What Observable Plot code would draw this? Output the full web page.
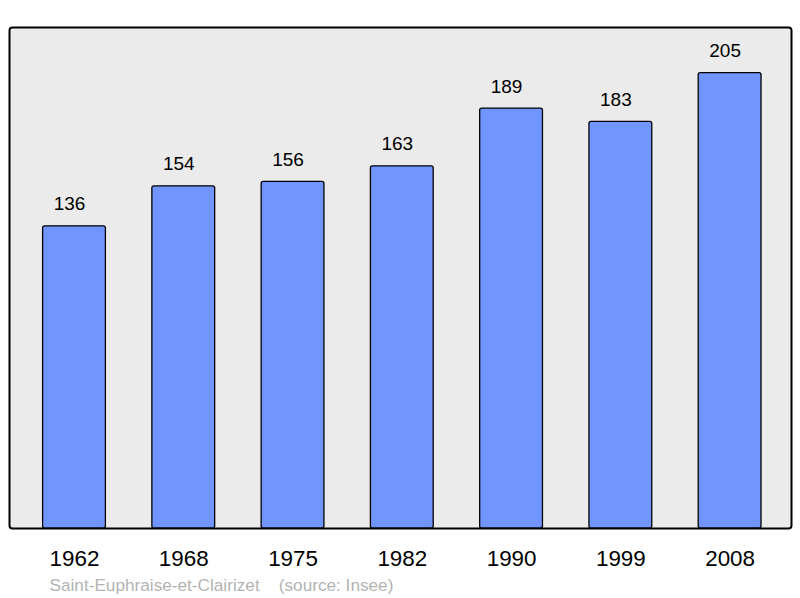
<!DOCTYPE html>
<html>
<head>
<meta charset="utf-8">
<script src="https://cdn.jsdelivr.net/npm/d3@7"></script>
<script src="https://cdn.jsdelivr.net/npm/@observablehq/plot@0.6"></script>
<style>
  html, body { margin: 0; padding: 0; background: #fff; }
  svg { display: block; }
</style>
</head>
<body>
<div id="chart"></div>
<script>
const years = ["1962", "1968", "1975", "1982", "1990", "1999", "2008"];
const population = [136, 154, 156, 163, 189, 183, 205];
const caption = "Saint-Euphraise-et-Clairizet\u00a0\u00a0\u00a0\u00a0(source: Insee)";

const data = years.map((year, i) => ({year, value: population[i]}));

const chart = Plot.plot({
  width: 800,
  height: 598,
  marginLeft: 9,
  marginRight: 9,
  marginTop: 27,
  marginBottom: 70,
  style: {fontFamily: "'Liberation Sans', Arial, sans-serif", background: "#fff"},
  x: {type: "band", domain: years, range: [9.82, 793.8], paddingInner: 0.4253, paddingOuter: 0.3, round: false, axis: null},
  y: {domain: [0, 225.5], axis: null},
  marks: [
    Plot.frame({fill: "#ebebeb", stroke: "#000", strokeWidth: 2, rx: 3}),
    Plot.barY(data, {x: "year", y: "value", fill: "#7095ff", stroke: "#000", strokeWidth: 1.3, rx: 2}),
    Plot.text(data, {x: "year", y: "value", text: d => String(d.value), dx: -5, dy: -16, lineAnchor: "bottom", fontSize: 19, fill: "#000"}),
    Plot.text(years, {x: d => d, frameAnchor: "bottom", dy: 37, lineAnchor: "bottom", fontSize: 22.4, fill: "#000"}),
    Plot.text([caption], {frameAnchor: "bottom-left", dx: 40, dy: 62, lineAnchor: "bottom", textAnchor: "start", fontSize: 17.2, fill: "#b3b3b3"})
  ]
});
document.getElementById("chart").appendChild(chart);
</script>
</body>
</html>
